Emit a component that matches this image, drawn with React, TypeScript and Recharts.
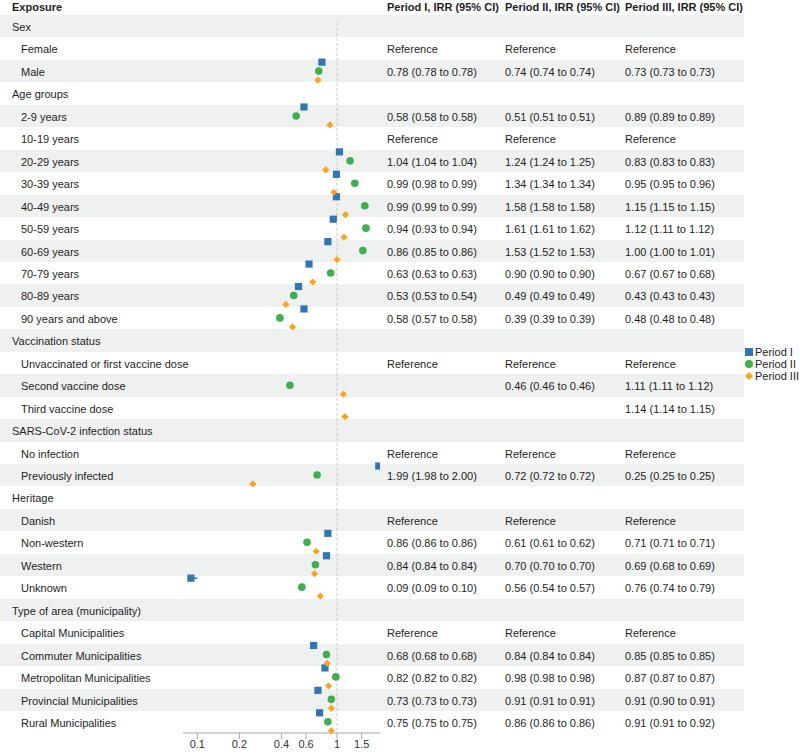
import React from 'react';
import {
  ComposedChart,
  Scatter,
  ErrorBar,
  XAxis,
  YAxis,
  ReferenceLine,
  Legend,
} from 'recharts';

type Cell = null | 'Reference' | [number, number, number];

// rows of the table, headers are group titles
const exposures = [
  'Sex', 'Female', 'Male',
  'Age groups', '2-9 years', '10-19 years', '20-29 years', '30-39 years', '40-49 years',
  '50-59 years', '60-69 years', '70-79 years', '80-89 years', '90 years and above',
  'Vaccination status', 'Unvaccinated or first vaccine dose', 'Second vaccine dose', 'Third vaccine dose',
  'SARS-CoV-2 infection status', 'No infection', 'Previously infected',
  'Heritage', 'Danish', 'Non-western', 'Western', 'Unknown',
  'Type of area (municipality)', 'Capital Municipalities', 'Commuter Municipalities',
  'Metropolitan Municipalities', 'Provincial Municipalities', 'Rural Municipalities',
];
const groupHeaders = ['Sex', 'Age groups', 'Vaccination status', 'SARS-CoV-2 infection status', 'Heritage', 'Type of area (municipality)'];

const R = 'Reference';
const period1: Cell[] = [
  null, R, [0.78, 0.78, 0.78],
  null, [0.58, 0.58, 0.58], R, [1.04, 1.04, 1.04], [0.99, 0.98, 0.99], [0.99, 0.99, 0.99],
  [0.94, 0.93, 0.94], [0.86, 0.85, 0.86], [0.63, 0.63, 0.63], [0.53, 0.53, 0.54], [0.58, 0.57, 0.58],
  null, R, null, null,
  null, R, [1.99, 1.98, 2.0],
  null, R, [0.86, 0.86, 0.86], [0.84, 0.84, 0.84], [0.09, 0.09, 0.1],
  null, R, [0.68, 0.68, 0.68], [0.82, 0.82, 0.82], [0.73, 0.73, 0.73], [0.75, 0.75, 0.75],
];
const period2: Cell[] = [
  null, R, [0.74, 0.74, 0.74],
  null, [0.51, 0.51, 0.51], R, [1.24, 1.24, 1.25], [1.34, 1.34, 1.34], [1.58, 1.58, 1.58],
  [1.61, 1.61, 1.62], [1.53, 1.52, 1.53], [0.9, 0.9, 0.9], [0.49, 0.49, 0.49], [0.39, 0.39, 0.39],
  null, R, [0.46, 0.46, 0.46], null,
  null, R, [0.72, 0.72, 0.72],
  null, R, [0.61, 0.61, 0.62], [0.7, 0.7, 0.7], [0.56, 0.54, 0.57],
  null, R, [0.84, 0.84, 0.84], [0.98, 0.98, 0.98], [0.91, 0.91, 0.91], [0.86, 0.86, 0.86],
];
const period3: Cell[] = [
  null, R, [0.73, 0.73, 0.73],
  null, [0.89, 0.89, 0.89], R, [0.83, 0.83, 0.83], [0.95, 0.95, 0.96], [1.15, 1.15, 1.15],
  [1.12, 1.11, 1.12], [1.0, 1.0, 1.01], [0.67, 0.67, 0.68], [0.43, 0.43, 0.43], [0.48, 0.48, 0.48],
  null, R, [1.11, 1.11, 1.12], [1.14, 1.14, 1.15],
  null, R, [0.25, 0.25, 0.25],
  null, R, [0.71, 0.71, 0.71], [0.69, 0.68, 0.69], [0.76, 0.74, 0.79],
  null, R, [0.85, 0.85, 0.85], [0.87, 0.87, 0.87], [0.91, 0.9, 0.91], [0.91, 0.91, 0.92],
];

const periodNames = ['Period I', 'Period II', 'Period III'];
const xTicks = [0.1, 0.2, 0.4, 0.6, 1, 1.5];

const ROW_TOP = 15;
const ROW_H = 22.45;
const BAND = '#eef1f0';
const TEXT = '#1e1e1e';
const COLORS = ['#2f76b8', '#3cb04a', '#ffa31a'];
const OFFSETS = [-0.4, 0, 0.4];
const COL_X = [387, 505, 625];
const FONT = '"Liberation Sans", Arial, sans-serif';

const fmt = (v: number) => v.toFixed(2);

const toPoints = (cells: Cell[], k: number) =>
  cells.flatMap((c, i) =>
    Array.isArray(c)
      ? [{ x: c[0], y: i + 0.5 + OFFSETS[k], err: [c[0] - c[1], c[2] - c[0]] }]
      : []
  );

const SquareShape = (p: any) => (
  <rect x={p.cx - 3.6} y={p.cy - 3.6} width={7.2} height={7.2} fill={COLORS[0]} />
);
const CircleShape = (p: any) => <circle cx={p.cx} cy={p.cy} r={3.8} fill={COLORS[1]} />;
const DiamondShape = (p: any) => (
  <polygon
    points={`${p.cx},${p.cy - 3.6} ${p.cx + 3.6},${p.cy} ${p.cx},${p.cy + 3.6} ${p.cx - 3.6},${p.cy}`}
    fill={COLORS[2]}
  />
);
const shapes = [SquareShape, CircleShape, DiamondShape];

function LegendBox() {
  return (
    <div style={{ fontFamily: FONT, fontSize: 11, color: TEXT }}>
      {periodNames.map((n, k) => (
        <div key={n} style={{ display: 'flex', alignItems: 'center', height: 12 }}>
          <svg width={10} height={10} style={{ marginRight: 1 }}>
            {k === 0 && <rect x={1} y={1} width={8} height={8} fill={COLORS[0]} />}
            {k === 1 && <circle cx={5} cy={5} r={4} fill={COLORS[1]} />}
            {k === 2 && <polygon points="5,1 9,5 5,9 1,5" fill={COLORS[2]} />}
          </svg>
          {n}
        </div>
      ))}
    </div>
  );
}

export default function App() {
  const series = [period1, period2, period3];
  const cellText = (c: Cell) => (c === null ? '' : c === R ? R : `${fmt(c[0])} (${fmt(c[1])} to ${fmt(c[2])})`);
  const textTop = (i: number) => ROW_TOP + i * ROW_H + 1;

  return (
    <div
      style={{
        position: 'absolute',
        left: 0,
        top: 0,
        width: 800,
        height: 754,
        background: '#fff',
        fontFamily: FONT,
        fontSize: 11,
        color: TEXT,
        overflow: 'hidden',
      }}
    >
      {exposures.map((_, i) =>
        i % 2 === 0 ? (
          <div
            key={'b' + i}
            style={{ position: 'absolute', left: 0, width: 744, top: ROW_TOP + i * ROW_H, height: ROW_H, background: BAND }}
          />
        ) : null
      )}

      <div style={{ position: 'absolute', left: 0, top: 0 }}>
        <ComposedChart width={800} height={754} margin={{ top: ROW_TOP, right: 420, bottom: 0, left: 183 }}>
          <XAxis
            dataKey="x"
            type="number"
            scale="log"
            domain={[0.079, 2.03]}
            ticks={xTicks}
            allowDataOverflow
            height={21}
            tickSize={6}
            tickMargin={1}
            tickFormatter={(v) => String(v)}
            tick={{ fontSize: 11, fill: '#333', fontFamily: FONT }}
            stroke="#a8a8a8"
          />
          <YAxis type="number" dataKey="y" domain={[0, 32]} reversed hide />
          <ReferenceLine
            segment={[{ x: 1, y: 0.35 }, { x: 1, y: 32 }]}
            stroke="#c8c8c8"
            strokeDasharray="3 2"
          />
          {series.map((cells, k) => (
            <Scatter
              key={periodNames[k]}
              name={periodNames[k]}
              data={toPoints(cells, k)}
              fill={COLORS[k]}
              shape={shapes[k]}
              isAnimationActive={false}
            >
              <ErrorBar dataKey="err" direction="x" width={0} stroke={COLORS[k]} strokeWidth={1.5} />
            </Scatter>
          ))}
          <Legend
            layout="vertical"
            align="center"
            verticalAlign="middle"
            content={() => <LegendBox />}
            wrapperStyle={{ left: 744, top: 346, width: 60 }}
          />
        </ComposedChart>
      </div>

      <div style={{ position: 'absolute', left: 12, top: 0, height: ROW_TOP, lineHeight: ROW_TOP + 'px', fontWeight: 'bold' }}>
        Exposure
      </div>
      {periodNames.map((n, k) => (
        <div
          key={'h' + k}
          style={{ position: 'absolute', left: COL_X[k], top: 0, height: ROW_TOP, lineHeight: ROW_TOP + 'px', fontWeight: 'bold' }}
        >
          {n}, IRR (95% CI)
        </div>
      ))}

      {exposures.map((label, i) => (
        <React.Fragment key={'r' + i}>
          <div
            style={{
              position: 'absolute',
              left: groupHeaders.includes(label) ? 12 : 21,
              top: textTop(i),
              height: ROW_H,
              lineHeight: ROW_H + 'px',
              whiteSpace: 'nowrap',
            }}
          >
            {label}
          </div>
          {series.map((cells, k) => (
            <div
              key={k}
              style={{
                position: 'absolute',
                left: COL_X[k],
                top: textTop(i),
                height: ROW_H,
                lineHeight: ROW_H + 'px',
                whiteSpace: 'nowrap',
              }}
            >
              {cellText(cells[i])}
            </div>
          ))}
        </React.Fragment>
      ))}
    </div>
  );
}
